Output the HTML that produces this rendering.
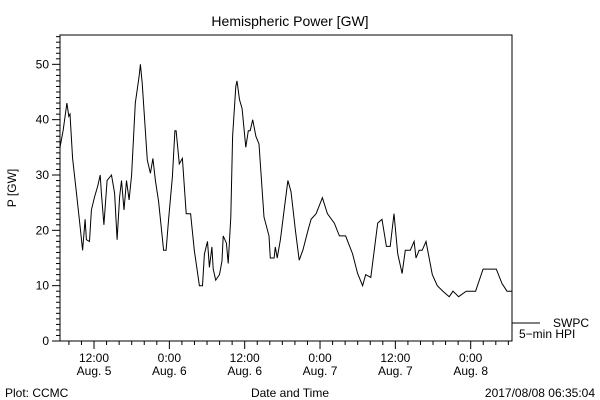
<!DOCTYPE html>
<html><head><meta charset="utf-8"><style>
html,body{margin:0;padding:0;background:#fff;}
svg{display:block;font-family:"Liberation Sans",sans-serif;}
text{fill:#000;font-size:12px;}
</style></head><body>
<svg id="chart" width="600" height="400" viewBox="0 0 600 400">
<text x="290" y="26" text-anchor="middle" font-size="14" style="font-size:14px">Hemispheric Power [GW]</text>
<rect x="60" y="35" width="452" height="306" fill="none" stroke="#000" stroke-width="1"/>
<g id="axes"></g>
<text transform="translate(16,188) rotate(-90)" text-anchor="middle">P [GW]</text>
<text x="290" y="397" text-anchor="middle">Date and Time</text>
<text x="5" y="397">Plot: CCMC</text>
<text x="595" y="397" text-anchor="end">2017/08/08 06:35:04</text>
<line x1="512" y1="323" x2="540" y2="323" stroke="#000"/>
<text x="589" y="327" text-anchor="end">SWPC</text>
<text x="519" y="338">5−min HPI</text>
</svg>
<script>
const hours = [0,0.5,1.1,1.4,1.6,2.0,2.6,3.2,3.6,4.0,4.2,4.7,5.0,5.5,6.0,6.4,6.6,7.0,7.5,8.2,8.7,9.1,9.5,9.8,10.2,10.6,11.0,11.4,12.0,12.6,12.8,13.1,13.9,14.4,14.8,15.2,15.7,16.5,16.9,17.3,17.9,18.3,18.5,19.0,19.5,20.1,20.8,21.4,22.2,22.7,23.0,23.5,23.8,24.2,24.4,24.8,25.4,25.8,26.0,26.5,26.8,27.2,27.5,28.0,28.2,28.6,29.0,29.6,30.0,30.3,30.7,31.2,31.7,32.5,33.3,33.5,34.1,34.3,34.6,35.1,35.9,36.3,36.8,37.5,38.1,38.7,39.5,40.0,40.8,41.8,42.6,43.7,44.5,45.5,46.6,47.4,48.2,48.7,49.5,50.6,51.3,52.0,52.6,53.2,53.8,54.5,55.0,55.8,56.4,56.7,57.2,57.7,58.3,59.3,60.1,61.0,62.0,62.6,63.5,64.7,66.2,67.1,67.4,69.5,70.4,71.2,72.0];
const power = [35,38,43,40.6,41,33,27,20.7,16.4,22,18.3,18,23.7,26,28,30,26.7,21,29,30,26.7,18.3,26,29,23.7,29,25.5,30,43,47.8,50,46.6,32.7,30.3,33,29,25.2,16.4,16.4,22,29.7,38,38,32,33,23,23,16.4,10,10,15.7,18,13.3,17,13,11,12,14.5,19,17.7,14,22.4,37,46,47,43.6,42,35,38,38,40,37,35.6,22.4,19,15,15,17,15,18.3,25.5,29,27,20,14.6,16.5,20,22,23,25.9,23,21.3,19,19,15.8,12.2,10,12,11.5,21.3,22,17.1,17.1,23,15.8,12.2,16.4,16.4,18,15,16.4,16.4,18,12,10,9,8,9,8,9,9,12,13,13,10.4,9,9];
const yTicks = [0,10,20,30,40,50];
const xTickHours = [5.42,17.42,29.42,41.42,53.42,65.42];
const xTimeLabels = ["12:00","0:00","12:00","0:00","12:00","0:00"];
const xDateLabels = ["Aug. 5","Aug. 6","Aug. 6","Aug. 7","Aug. 7","Aug. 8"];
const L=60,R=512,T=35,B=341,YMAX=55.3,HMAX=72;
function xs(h){return L+h*(R-L)/HMAX;}
function ys(v){return B-v*(B-T)/YMAX;}
const NS="http://www.w3.org/2000/svg";
const svg=document.getElementById('chart');
const g=document.getElementById('axes');
function mk(tag,attrs){const e=document.createElementNS(NS,tag);for(const k in attrs)e.setAttribute(k,attrs[k]);return e;}
for(let v=0;v<=55;v++){
  const major=v%10===0;
  const t=mk('line',{x1:L-(major?8:4),x2:L,y1:ys(v),y2:ys(v),stroke:'#000'});
  
  
  g.appendChild(t);
}
yTicks.forEach(v=>{
  const t=mk('text',{x:49,y:ys(v)+4,'text-anchor':'end'});
  
  
  t.textContent=String(v);g.appendChild(t);
});
for(let h=xTickHours[0]%2;h<=HMAX;h+=2){
  const major=xTickHours.some(m=>Math.abs(m-h)<0.01);
  const t=mk('line',{x1:xs(h),x2:xs(h),y1:B,y2:B+(major?8:4),stroke:'#000'});
  
  
  g.appendChild(t);
}
xTickHours.forEach((h,i)=>{
  const a=mk('text',{x:xs(h),y:362,'text-anchor':'middle'});
  
  
  a.textContent=xTimeLabels[i];g.appendChild(a);
  const b=mk('text',{x:xs(h),y:375,'text-anchor':'middle'});
  
  
  b.textContent=xDateLabels[i];g.appendChild(b);
});
const pts=hours.map((h,i)=>xs(h).toFixed(1)+','+ys(power[i]).toFixed(1)).join(' ');
const line=mk('polyline',{points:pts,fill:'none',stroke:'#000','stroke-width':1});


svg.appendChild(line);
</script>
</body></html>
